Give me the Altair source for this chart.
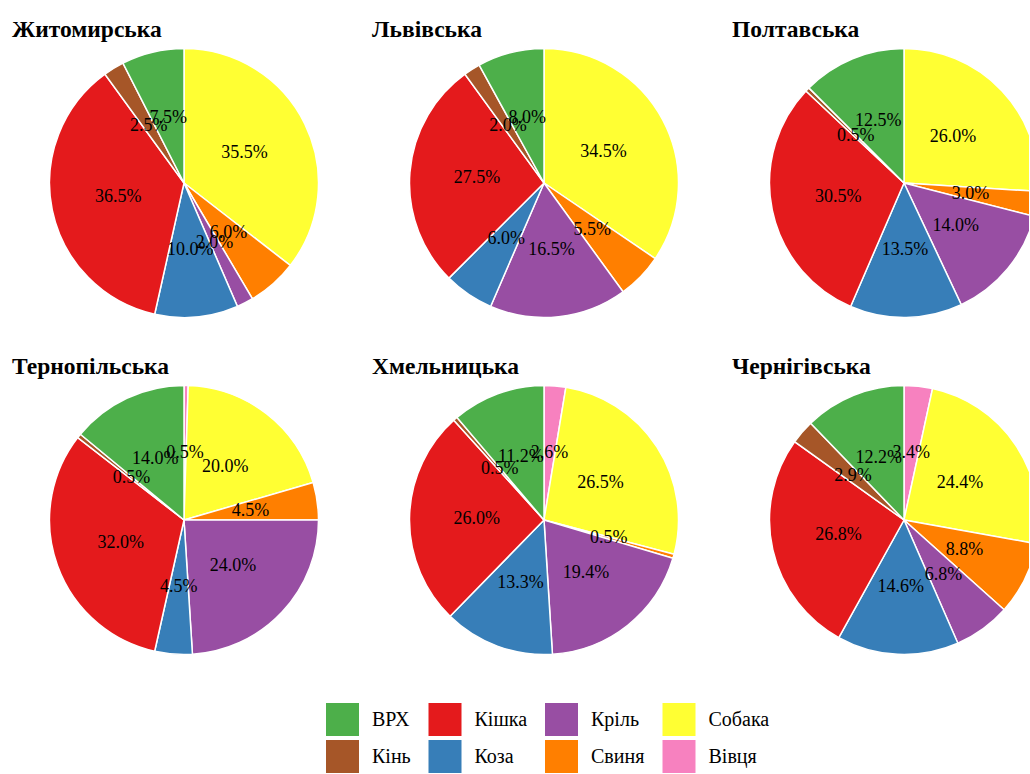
import altair as alt
import pandas as pd

# Regions (panel titles)
regions = ["Житомирська", "Львівська", "Полтавська",
           "Тернопільська", "Хмельницька", "Чернігівська"]

# Animal categories, clockwise from 12 o'clock
animals = ["Вівця", "Собака", "Свиня", "Кріль", "Коза", "Кішка", "Кінь", "ВРХ"]

# Shares (%) in the same order as `animals` (0 = absent)
zhytomyr = [0, 35.5, 6.0, 2.0, 10.0, 36.5, 2.5, 7.5]
lviv = [0, 34.5, 5.5, 16.5, 6.0, 27.5, 2.0, 8.0]
poltava = [0, 26.0, 3.0, 14.0, 13.5, 30.5, 0.5, 12.5]
ternopil = [0.5, 20.0, 4.5, 24.0, 4.5, 32.0, 0.5, 14.0]
khmelnytskyi = [2.6, 26.5, 0.5, 19.4, 13.3, 26.0, 0.5, 11.2]
chernihiv = [3.4, 24.4, 8.8, 6.8, 14.6, 26.8, 2.9, 12.2]

# Legend order and colours
legend_order = ["ВРХ", "Кінь", "Кішка", "Коза", "Кріль", "Свиня", "Собака", "Вівця"]
legend_colors = ["#4DAF4A", "#A65628", "#E41A1C", "#377EB8",
                 "#984EA3", "#FF7F00", "#FFFF33", "#F781BF"]

series = [zhytomyr, lviv, poltava, ternopil, khmelnytskyi, chernihiv]
rows = []
for reg, vals in zip(regions, series):
    for i, (a, v) in enumerate(zip(animals, vals)):
        if v > 0:
            rows.append({"region": reg, "animal": a, "idx": i, "value": v})
df = pd.DataFrame(rows)

SERIF = "'Liberation Serif', 'Times New Roman', serif"
R = 134.5
CX, CY = 172, 140
PANEL_H = 280

color_scale = alt.Scale(domain=legend_order, range=legend_colors)
legend = alt.Legend(
    title=None, orient="none", legendX=314, legendY=660, columns=4,
    symbolType="square", symbolSize=1089, symbolStrokeWidth=0, symbolOpacity=1,
    labelFont=SERIF, labelFontSize=20, labelColor="black", labelOffset=13,
    columnPadding=17.5, rowPadding=4, labelLimit=200,
)


def panel(region, width):
    base = alt.Chart(df).transform_filter(
        alt.datum.region == region
    ).transform_calculate(
        label="format(datum.value, '.1f') + '%'"
    ).encode(
        theta=alt.Theta("value:Q", stack=True),
        order=alt.Order("idx:Q", sort="ascending"),
    )
    arc = base.mark_arc(outerRadius=R, stroke="white", strokeWidth=1.5, clip=True).encode(
        color=alt.Color("animal:N", scale=color_scale, legend=legend),
        x=alt.value(CX), y=alt.value(CY),
    )
    text = base.mark_text(radius=R * 0.5, font=SERIF, fontSize=18, color="black").encode(
        text="label:N", x=alt.value(CX), y=alt.value(CY),
    )
    return alt.layer(arc, text).properties(
        width=width, height=PANEL_H,
        title=alt.TitleParams(text=region, anchor="start", frame="group", font=SERIF,
                              fontSize=23.5, fontWeight="bold", color="black", offset=2),
    )


row1 = alt.hconcat(panel(regions[0], 344), panel(regions[1], 344), panel(regions[2], 297), spacing=16)
row2 = alt.hconcat(panel(regions[3], 344), panel(regions[4], 344), panel(regions[5], 297), spacing=16)

chart = alt.vconcat(row1, row2, spacing=31).properties(
    padding={"left": 12, "top": 17, "right": 0, "bottom": 0},
    background="white",
).configure_view(stroke=None)

chart.save("out.html", embed_options={"renderer": "svg", "actions": False})
